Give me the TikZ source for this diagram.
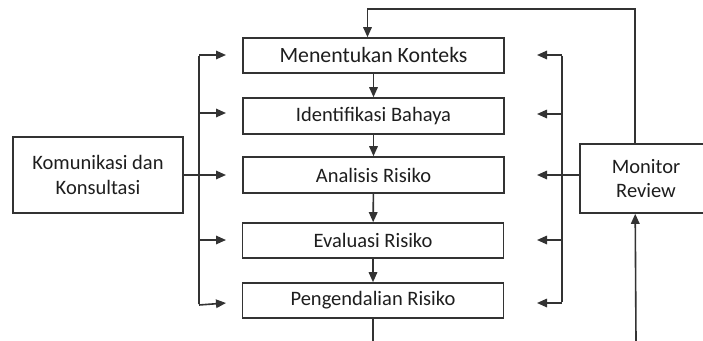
\documentclass[tikz,border=0pt]{standalone}
\usepackage{fontspec}
\setmainfont{Carlito}
\usetikzlibrary{arrows.meta}
\definecolor{linec}{HTML}{333333}
\definecolor{textc}{HTML}{1E1E1E}
\begin{document}
\begin{tikzpicture}[x=1pt,y=-1pt,
  box/.style={draw=linec, line width=1.6pt, fill=white, text=textc, inner sep=0pt, align=center,
    font=\fontsize{20.5}{24.5}\selectfont},
  ln/.style={draw=linec, line width=1.6pt},
  arr/.style={draw=linec, line width=1.6pt, -{Triangle[length=10pt,width=8.5pt]}}]
\useasboundingbox (0,0) rectangle (703,340);
\clip (0,0) rectangle (703,340);
\fill[white] (0,0) rectangle (703,340);
% main chain
\node[box, minimum width=261pt, minimum height=35pt, font=\fontsize{21.8}{24}\selectfont] (b1) at (373.5,55.5) {Menentukan Konteks};
\node[box, minimum width=261pt, minimum height=36pt] (b2) at (373.5,116) {Identifikasi Bahaya};
\node[box, minimum width=261pt, minimum height=36pt] (b3) at (373.5,175) {Analisis Risiko};
\node[box, minimum width=261pt, minimum height=35pt] (b4) at (373,240.5) {Evaluasi Risiko};
\node[box, minimum width=261pt, minimum height=35pt] (b5) at (373,300.5) {Pengendalian Risiko};
% side boxes
\node[box, minimum width=170pt, minimum height=76pt] (kom) at (98,175) {Komunikasi dan\\Konsultasi};
\node[box, minimum width=132pt, minimum height=69pt] (mon) at (646,178.5) {Monitor\\Review};
% chain arrows
\draw[arr] (b1) -- (b2);
\draw[arr] (b2) -- (b3);
\draw[arr] (b3) -- (b4);
\draw[arr] (b4) -- (b5);
\draw[ln] (b5.south) -- ++(0,25);
% feedback top
\draw[arr] ([xshift=56pt]mon.north west) -- ++(0,-134) -| ([xshift=-6pt]b1.north);
\coordinate (mb) at (636,341);
\draw[arr] (mb) -- ([xshift=56pt]mon.south west);
% left bus
\coordinate (L1) at (199,55);
\coordinate (L2) at (199,113);
\coordinate (L4) at (199,240);
\coordinate (L5) at (199,304);
\coordinate (TL1) at (226,55);
\coordinate (TL2) at (226,113);
\coordinate (TL3) at (226,175);
\coordinate (TL4) at (226,240);
\coordinate (TL5) at (226,303);
\draw[ln] ([yshift=-0.8pt]L1) -- (L5);
\draw[arr] (L1) -- (TL1);
\draw[arr] (L2) -- (TL2);
\draw[arr] (kom.east) -- (TL3);
\draw[arr] (L4) -- (TL4);
\draw[arr] ([yshift=-1pt]L5) -- (TL5);
% right bus
\coordinate (R1) at (562,55);
\coordinate (R2) at (562,114);
\coordinate (R4) at (562,240);
\coordinate (R5) at (562,303);
\coordinate (TR1) at (537,55);
\coordinate (TR2) at (537,114);
\coordinate (TR3) at (537,175);
\coordinate (TR4) at (537,240);
\coordinate (TR5) at (537,303);
\draw[ln] ([yshift=-0.8pt]R1) -- ([yshift=0.8pt]R5);
\draw[arr] (R1) -- (TR1);
\draw[arr] (R2) -- (TR2);
\draw[arr] (mon.west |- TR3) -- (TR3);
\draw[arr] (R4) -- (TR4);
\draw[arr] (R5) -- (TR5);
\end{tikzpicture}
\end{document}
